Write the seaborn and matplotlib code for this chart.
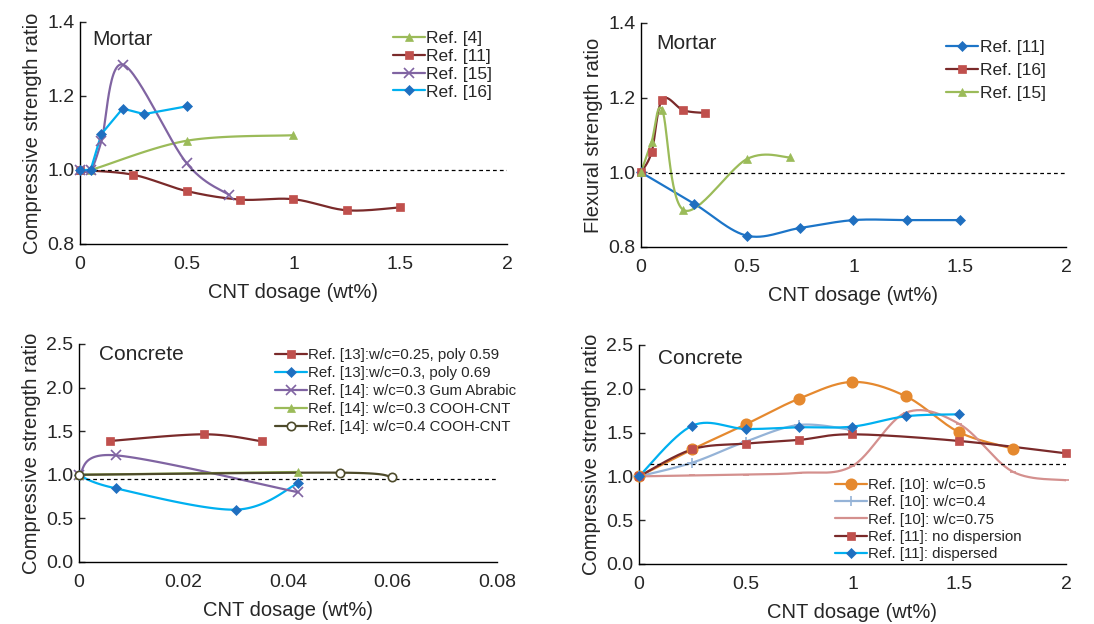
import numpy as np
import matplotlib
matplotlib.use("Agg")
import matplotlib.pyplot as plt
import seaborn as sns
from matplotlib.lines import Line2D

# ---- data ----
# top-left: mortar compressive
m_c_ref4_x = [0, 0.05, 0.5, 1.0]
m_c_ref4_y = [1.0, 1.0, 1.079, 1.094]
m_c_ref11_x = [0, 0.25, 0.5, 0.75, 1.0, 1.25, 1.5]
m_c_ref11_y = [1.0, 0.987, 0.943, 0.920, 0.921, 0.891, 0.899]
m_c_ref15_x = [0, 0.05, 0.1, 0.2, 0.5, 0.7]
m_c_ref15_y = [1.0, 1.0, 1.077, 1.285, 1.018, 0.932]
m_c_ref16_x = [0, 0.05, 0.1, 0.2, 0.3, 0.5]
m_c_ref16_y = [1.0, 1.0, 1.097, 1.166, 1.151, 1.172]

# top-right: mortar flexural
m_f_ref11_x = [0, 0.25, 0.5, 0.75, 1.0, 1.25, 1.5]
m_f_ref11_y = [1.0, 0.916, 0.830, 0.851, 0.872, 0.872, 0.872]
m_f_ref16_x = [0, 0.05, 0.1, 0.2, 0.3]
m_f_ref16_y = [1.0, 1.054, 1.195, 1.166, 1.159]
m_f_ref15_x = [0, 0.05, 0.1, 0.2, 0.5, 0.7]
m_f_ref15_y = [1.0, 1.082, 1.167, 0.899, 1.036, 1.040]

# bottom-left: concrete compressive (low dosage)
c_ref13a_x = [0.006, 0.024, 0.035]
c_ref13a_y = [1.388, 1.464, 1.384]
c_ref13b_x = [0, 0.007, 0.030, 0.042]
c_ref13b_y = [0.994, 0.845, 0.600, 0.906]
c_ref14gum_x = [0, 0.007, 0.042]
c_ref14gum_y = [1.0, 1.223, 0.799]
c_ref14c3_x = [0, 0.042]
c_ref14c3_y = [1.0, 1.032]
c_ref14c4_x = [0, 0.05, 0.06]
c_ref14c4_y = [1.0, 1.024, 0.975]

# bottom-right: concrete compressive
c_ref10a_x = [0, 0.25, 0.5, 0.75, 1.0, 1.25, 1.5, 1.75]
c_ref10a_y = [1.0, 1.309, 1.594, 1.887, 2.078, 1.914, 1.503, 1.317]
c_ref10b_x = [0, 0.25, 0.5, 0.75, 1.0]
c_ref10b_y = [1.0, 1.157, 1.397, 1.587, 1.530]
c_ref10c_x = [0, 0.25, 0.5, 0.75, 1.0, 1.25, 1.5, 1.75, 2.0]
c_ref10c_y = [1.0, 1.01, 1.02, 1.04, 1.119, 1.727, 1.598, 1.054, 0.955]
c_ref11a_x = [0, 0.25, 0.5, 0.75, 1.0, 1.5, 2.0]
c_ref11a_y = [1.0, 1.309, 1.374, 1.416, 1.480, 1.404, 1.263]
c_ref11b_x = [0, 0.25, 0.5, 0.75, 1.0, 1.25, 1.5]
c_ref11b_y = [1.0, 1.579, 1.541, 1.560, 1.568, 1.686, 1.708]

# dashed reference levels
ref_level_tl = 1.0
ref_level_tr = 0.997
ref_level_bl = 0.952
ref_level_br = 1.138


def smooth(x, y, n=30):
    # Excel-style smoothed line (Catmull-Rom through the points)
    p = np.column_stack([x, y]).astype(float)
    if len(p) < 3:
        return p[:, 0], p[:, 1]
    ext = np.vstack([p[0], p, p[-1]])
    out = []
    t = np.linspace(0, 1, n)[:, None]
    for i in range(len(p) - 1):
        p0, p1, p2, p3 = ext[i], ext[i + 1], ext[i + 2], ext[i + 3]
        m1 = (p2 - p0) / 2
        m2 = (p3 - p1) / 2
        h00 = 2 * t**3 - 3 * t**2 + 1
        h10 = t**3 - 2 * t**2 + t
        h01 = -2 * t**3 + 3 * t**2
        h11 = t**3 - t**2
        seg = h00 * p1 + h10 * m1 + h01 * p2 + h11 * m2
        out.append(seg if i == 0 else seg[1:])
    out = np.vstack(out)
    return out[:, 0], out[:, 1]


def series(ax, x, y, line_c, mark_c, marker, ms=6, smooth_it=True, face=None):
    if smooth_it:
        sx, sy = smooth(x, y)
    else:
        sx, sy = np.array(x, float), np.array(y, float)
    sns.lineplot(x=sx, y=sy, ax=ax, color=line_c, lw=1.6, sort=False,
                 estimator=None, legend=False)
    mew = 1.2 if marker in ("x", "+", "o", "_") else 0.5
    ax.plot(x, y, ls="none", marker=marker, ms=ms, color=mark_c,
            mfc=face if face else mark_c, mec=mark_c,
            mew=mew, clip_on=False, zorder=3)
    return Line2D([], [], color=line_c, lw=1.6, marker=marker, ms=ms,
                  mfc=face if face else mark_c, mec=mark_c, mew=mew)


sns.set_style("ticks")
plt.rcParams["font.family"] = ["Liberation Sans", "DejaVu Sans"]
plt.rcParams["font.size"] = 14.5

BROWN, RED = "#7a2a2a", "#c0504d"
GREEN = "#9bbb59"
PURPLE = "#8064a2"
CYAN, BLUE = "#00b0f0", "#1f6fc0"
ORANGE = "#e5892f"
LBLUE = "#95b3d7"
PINK = "#d4908e"
OLIVE = "#4d4a2a"

fig = plt.figure(figsize=(10.94, 6.24), dpi=100)
ax1 = fig.add_axes([0.0731, 0.609, 0.3903, 0.3558])
ax2 = fig.add_axes([0.5859, 0.6042, 0.3885, 0.3590])
ax3 = fig.add_axes([0.0722, 0.0994, 0.3821, 0.3494])
ax4 = fig.add_axes([0.5841, 0.0962, 0.3903, 0.3510])

# top-left
h = [series(ax1, m_c_ref4_x, m_c_ref4_y, GREEN, GREEN, "^"),
     series(ax1, m_c_ref11_x, m_c_ref11_y, BROWN, RED, "s"),
     series(ax1, m_c_ref15_x, m_c_ref15_y, PURPLE, PURPLE, "x", ms=7),
     series(ax1, m_c_ref16_x, m_c_ref16_y, CYAN, BLUE, "D", ms=5.5, smooth_it=False)]
ax1.plot([0, 2], [ref_level_tl, ref_level_tl], "k--", lw=0.9, dashes=(3, 2.5))
ax1.legend(h, ["Ref. [4]", "Ref. [11]", "Ref. [15]", "Ref. [16]"], loc="upper left",
           bbox_to_anchor=(0.716, 0.99), frameon=False, fontsize=12.5,
           handlelength=1.85, handletextpad=0.1, labelspacing=0.15, borderaxespad=0)
ax1.text(0.028, 0.92, "Mortar", transform=ax1.transAxes, va="center", fontsize=15)
ax1.set_xlim(0, 2)
ax1.set_ylim(0.8, 1.4)
ax1.set_yticks([0.8, 1.0, 1.2, 1.4])
ax1.set_ylabel("Compressive strength ratio")

# top-right
h = [series(ax2, m_f_ref11_x, m_f_ref11_y, "#1c75c8", BLUE, "D", ms=5.5),
     series(ax2, m_f_ref16_x, m_f_ref16_y, BROWN, RED, "s"),
     series(ax2, m_f_ref15_x, m_f_ref15_y, GREEN, GREEN, "^")]
ax2.plot([0, 2], [ref_level_tr, ref_level_tr], "k--", lw=0.9, dashes=(3, 2.5))
ax2.legend(h, ["Ref. [11]", "Ref. [16]", "Ref. [15]"], loc="upper left",
           bbox_to_anchor=(0.701, 0.955), frameon=False, fontsize=12.5,
           handlelength=1.85, handletextpad=0.1, labelspacing=0.44, borderaxespad=0)
ax2.text(0.035, 0.91, "Mortar", transform=ax2.transAxes, va="center", fontsize=15)
ax2.set_xlim(0, 2)
ax2.set_ylim(0.8, 1.4)
ax2.set_yticks([0.8, 1.0, 1.2, 1.4])
ax2.set_ylabel("Flexural strength ratio")

# bottom-left
h = [series(ax3, c_ref13a_x, c_ref13a_y, BROWN, RED, "s"),
     series(ax3, c_ref13b_x, c_ref13b_y, CYAN, BLUE, "D", ms=5.5),
     series(ax3, c_ref14gum_x, c_ref14gum_y, PURPLE, PURPLE, "x", ms=7),
     series(ax3, c_ref14c3_x, c_ref14c3_y, GREEN, GREEN, "^"),
     series(ax3, c_ref14c4_x, c_ref14c4_y, OLIVE, OLIVE, "o", face="white")]
ax3.plot([0, 0.08], [ref_level_bl, ref_level_bl], "k--", lw=0.9, dashes=(3, 2.5))
ax3.legend(h, ["Ref. [13]:w/c=0.25, poly 0.59", "Ref. [13]:w/c=0.3, poly 0.69",
               "Ref. [14]: w/c=0.3 Gum Abrabic", "Ref. [14]: w/c=0.3 COOH-CNT",
               "Ref. [14]: w/c=0.4 COOH-CNT"], loc="upper left",
           bbox_to_anchor=(0.455, 1.01), frameon=False, fontsize=10.8,
           handlelength=2.1, handletextpad=0.1, labelspacing=0.27, borderaxespad=0)
ax3.text(0.048, 0.95, "Concrete", transform=ax3.transAxes, va="center", fontsize=15)
ax3.set_xlim(0, 0.08)
ax3.set_ylim(0, 2.5)
ax3.set_xticks([0, 0.02, 0.04, 0.06, 0.08])
ax3.set_xticklabels(["0", "0.02", "0.04", "0.06", "0.08"])
ax3.set_yticks([0, 0.5, 1.0, 1.5, 2.0, 2.5])
ax3.set_ylabel("Compressive strength ratio")

# bottom-right
h = [series(ax4, c_ref10a_x, c_ref10a_y, ORANGE, ORANGE, "o", ms=7.5),
     series(ax4, c_ref10b_x, c_ref10b_y, LBLUE, LBLUE, "+", ms=7),
     series(ax4, c_ref10c_x, c_ref10c_y, PINK, PINK, "_", ms=4),
     series(ax4, c_ref11a_x, c_ref11a_y, BROWN, RED, "s"),
     series(ax4, c_ref11b_x, c_ref11b_y, CYAN, BLUE, "D", ms=5.5)]
ax4.plot([0.05, 2], [ref_level_br, ref_level_br], "k--", lw=0.9, dashes=(3, 2.5))
ax4.legend(h, ["Ref. [10]: w/c=0.5", "Ref. [10]: w/c=0.4", "Ref. [10]: w/c=0.75",
               "Ref. [11]: no dispersion", "Ref. [11]: dispersed"], loc="upper left",
           bbox_to_anchor=(0.445, 0.42), frameon=False, fontsize=10.8,
           handlelength=2.1, handletextpad=0.1, labelspacing=0.22, borderaxespad=0)
ax4.text(0.044, 0.936, "Concrete", transform=ax4.transAxes, va="center", fontsize=15)
ax4.set_xlim(0, 2)
ax4.set_ylim(0, 2.5)
ax4.set_yticks([0, 0.5, 1.0, 1.5, 2.0, 2.5])
ax4.set_ylabel("Compressive strength ratio")

for ax in (ax1, ax2, ax4):
    ax.set_xticks([0, 0.5, 1, 1.5, 2])
    ax.set_xticklabels(["0", "0.5", "1", "1.5", "2"])
for ax in (ax1, ax2, ax3, ax4):
    sns.despine(ax=ax)
    ax.set_xlabel("CNT dosage (wt%)", labelpad=7)
    ax.yaxis.set_major_formatter(matplotlib.ticker.FormatStrFormatter("%.1f"))
    ax.tick_params(axis="y", direction="in", length=4, width=1, labelsize=14, pad=4)
    ax.tick_params(axis="x", direction="in", length=0, labelsize=14, pad=9)
    for s in ("left", "bottom"):
        ax.spines[s].set_linewidth(1.0)
        ax.spines[s].set_color("black")

fig.savefig("out.png", dpi=100)
